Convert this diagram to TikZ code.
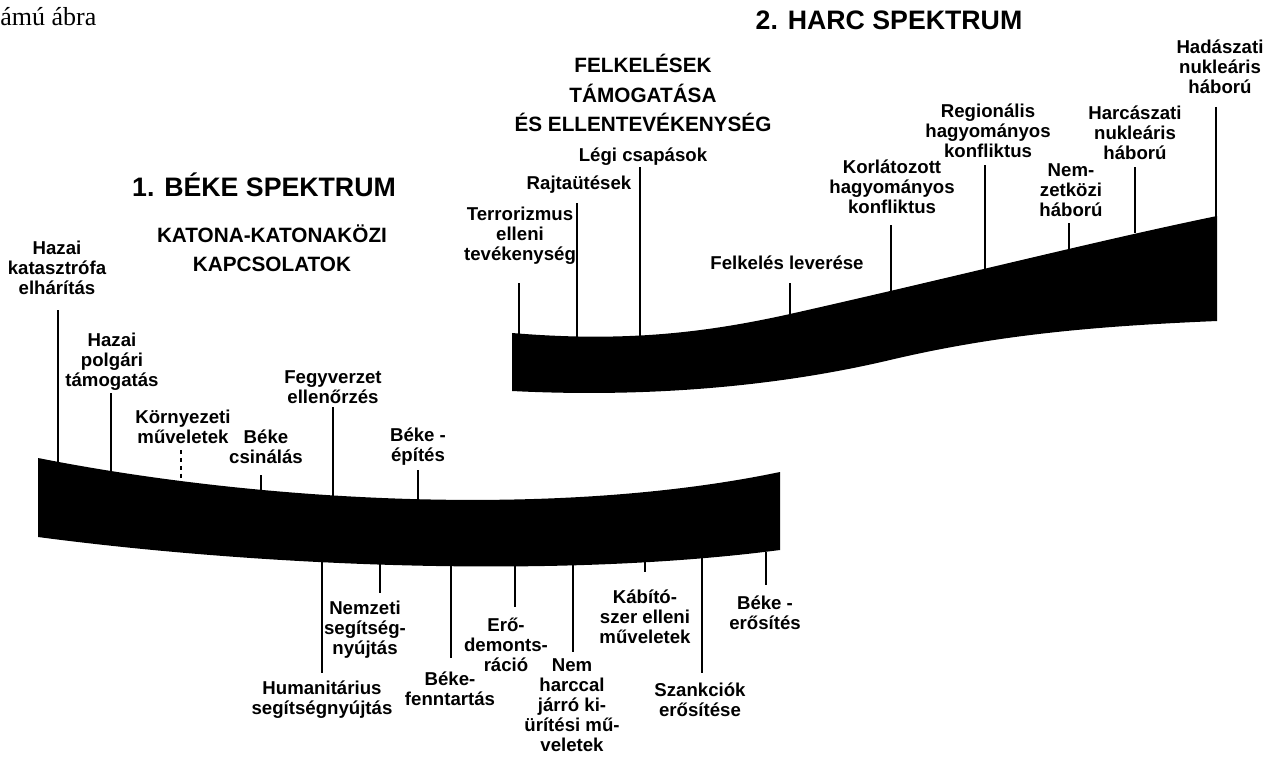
\documentclass[tikz,border=0pt]{standalone}
\usepackage{fontspec}
\setmainfont{Liberation Sans}
\newfontfamily\capfont{Liberation Serif}
\usepackage{tikz}
\usetikzlibrary{positioning}
\tikzset{lbl/.style={font=\bfseries\fontsize{10.6}{11.3}\selectfont,align=center,inner sep=0pt},
  ttl/.style={font=\bfseries\fontsize{15.2}{17}\selectfont,inner sep=0pt},
  sub/.style={font=\bfseries\fontsize{11.8}{16.7}\selectfont,align=center,inner sep=0pt},
  tick/.style={line width=0.8pt},
  band/.style={fill=black}}

\begin{document}
\begin{tikzpicture}[x=0.02cm,y=-0.02cm]
    \useasboundingbox (0,0) rectangle (1267,757);
    \node[anchor=west,inner sep=0pt,font=\capfont\fontsize{14.8}{16}\selectfont] (cap) at (0,17) {ámú ábra};
    \node[ttl] (beke) at (264,185) {1. BÉKE SPEKTRUM};
    \node[ttl] (harc) at (889,20) {2. HARC SPEKTRUM};
    \node[sub] (katona) at (272,248) {KATONA-KATONAKÖZI\\KAPCSOLATOK};
    \node[sub] (felkel) at (643,93) {FELKELÉSEK\\TÁMOGATÁSA\\ÉS ELLENTEVÉKENYSÉG};

    \fill[band] (38,458) .. controls (250,500) and (550,520) .. (780,472)
      -- (780,550) .. controls (550,580) and (250,565) .. (38,537) -- cycle;
    \fill[band] (512,333) .. controls (620,342) and (700,334) .. (790,314)
      .. controls (950,278) and (1100,240) .. (1217,216)
      -- (1217,321) .. controls (1100,326) and (1000,334) .. (890,360)
      .. controls (780,386) and (650,398) .. (512,391) -- cycle;

    \node[lbl] (hkat) at (57,268) {Hazai\\katasztrófa\\elhárítás};
    \node[lbl] (hpol) at (112,362) {Hazai\\polgári\\támogatás};
    \node[lbl] (korny) at (183,427) {Környezeti\\műveletek};
    \node[lbl] (csin) at (266,447) {Béke\\csinálás};
    \node[lbl] (fegy) at (333,387) {Fegyverzet\\ellenőrzés};
    \node[lbl] (epit) at (418,447) {Béke -\\építés};
    \node[lbl] (human) at (322,700) {Humanitárius\\segítségnyújtás};
    \node[lbl] (nemz) at (365,630) {Nemzeti\\segítség-\\nyújtás};
    \node[lbl] (fennt) at (450,689) {Béke-\\fenntartás};
    \node[lbl] (ero) at (506,645) {Erő-\\demonts-\\ráció};
    \node[lbl] (nem) at (572,705) {Nem\\harccal\\járró ki-\\ürítési mű-\\veletek};
    \node[lbl] (kabit) at (645,617) {Kábító-\\szer elleni\\műveletek};
    \node[lbl] (szank) at (700,700) {Szankciók\\erősítése};
    \node[lbl] (erosit) at (765,613) {Béke -\\erősítés};

    \node[lbl] (terr) at (520,236) {Terrorizmus\\elleni\\tevékenység};
    \node[lbl] (rajta) at (579,185) {Rajtaütések};
    \node[lbl] (legi) at (643,157) {Légi csapások};
    \node[lbl] (felk) at (787,263) {Felkelés leverése};
    \node[lbl] (korl) at (892,187) {Korlátozott\\hagyományos\\konfliktus};
    \node[lbl] (regi) at (988,131) {Regionális\\hagyományos\\konfliktus};
    \node[lbl] (nemzk) at (1071,190) {Nem-\\zetközi\\háború};
    \node[lbl] (harcn) at (1135,133) {Harcászati\\nukleáris\\háború};
    \node[lbl] (hadn) at (1220,67) {Hadászati\\nukleáris\\háború};

    \foreach \n/\x/\ya/\yb in {hkat/58/310/463, hpol/111/393/472, csin/261/475/491, fegy/333/407/497, epit/418/470/501,
        human/322/559/673, nemz/380/562/593, fennt/451/565/658, ero/515/565/607, nem/573/564/652,
        kabit/645/561/572, szank/702/558/673, erosit/766/552/585,
        terr/519/283/334, rajta/577/203/338, legi/640/167/338, felk/790/283/315, korl/891/225/293,
        regi/985/165/269, nemzk/1069/223/249, harcn/1135/167/233, hadn/1216/107/217}
      {\coordinate (\n-t) at (\x,\ya);
       \coordinate (\n-b) at (\x,\yb);
       \draw[tick] (\n-t) -- (\n-b);}
    \coordinate (korny-t) at (181,450);
    \coordinate (korny-b) at (181,481);
    \draw[tick,dash pattern=on 2.5pt off 2pt] (korny-t) -- (korny-b);
\end{tikzpicture}
\end{document}
